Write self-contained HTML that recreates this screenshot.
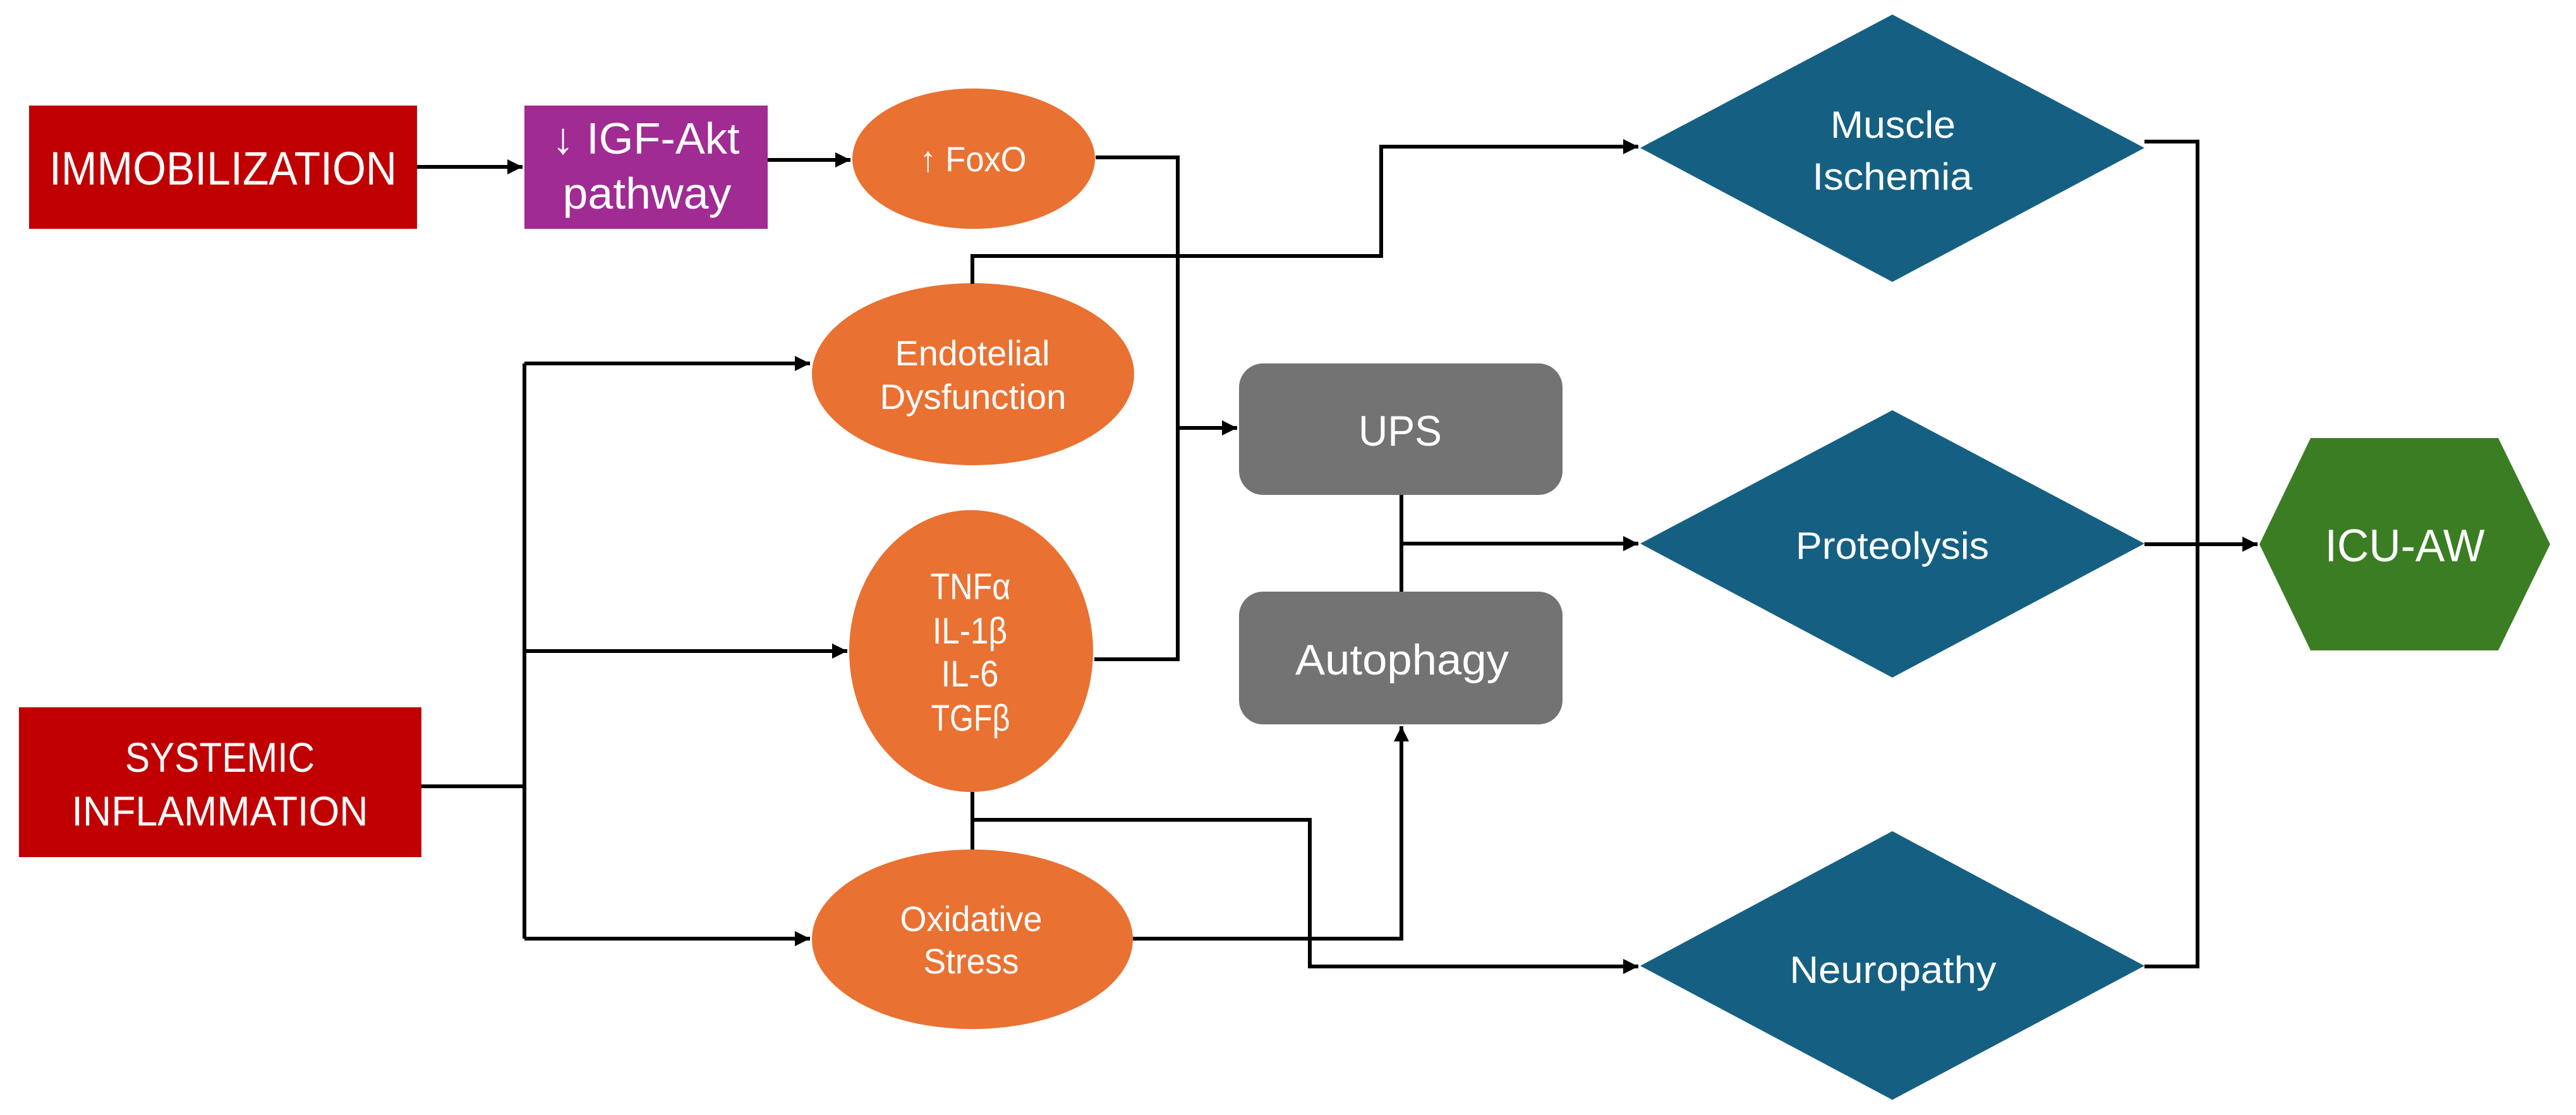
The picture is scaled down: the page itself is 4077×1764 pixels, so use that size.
<!DOCTYPE html>
<html><head><meta charset="utf-8"><style>
html,body{margin:0;padding:0;background:#fff;}
svg{display:block;}
text{font-family:"Liberation Sans",sans-serif;fill:#fff;text-anchor:middle;}
</style></head><body>
<svg width="4077" height="1764" viewBox="0 0 4077 1764" xmlns="http://www.w3.org/2000/svg">
<defs>
<marker id="a" markerUnits="userSpaceOnUse" markerWidth="26" markerHeight="26" refX="24" refY="12" orient="auto">
<path d="M0,0 L24,12 L0,24 Z" fill="#000"/>
</marker>
</defs>
<!-- shapes -->
<rect x="46" y="167" width="614" height="195" fill="#C00000"/>
<rect x="830" y="167" width="385" height="195" fill="#A02B93"/>
<ellipse cx="1541" cy="251" rx="192" ry="111" fill="#E97132"/>
<ellipse cx="1540" cy="592" rx="255" ry="144" fill="#E97132"/>
<ellipse cx="1537" cy="1030" rx="193" ry="223" fill="#E97132"/>
<ellipse cx="1539" cy="1486" rx="254" ry="142" fill="#E97132"/>
<rect x="30" y="1119" width="637" height="237" fill="#C00000"/>
<rect x="1961" y="575" width="512" height="208" rx="38" fill="#737373"/>
<rect x="1961" y="936" width="512" height="210" rx="38" fill="#737373"/>
<polygon points="2596,234 2995,23 3394,234 2995,446" fill="#156082"/>
<polygon points="2596,860 2995,649 3394,860 2995,1072" fill="#156082"/>
<polygon points="2596,1528 2995,1315 3394,1528 2995,1740" fill="#156082"/>
<polygon points="3576,861 3657,693 3954,693 4036,861 3954,1029 3657,1029" fill="#3B7D23"/>
<!-- connectors -->
<g fill="none" stroke="#000" stroke-width="6">
<path d="M660,264 H827" marker-end="url(#a)"/>
<path d="M1215,253 H1346" marker-end="url(#a)"/>
<path d="M1734,249 H1864 V1043 H1732"/>
<path d="M1864,677 H1958" marker-end="url(#a)"/>
<path d="M1539,449 V405 H2186 V232 H2593" marker-end="url(#a)"/>
<path d="M667,1244 H830"/>
<path d="M830,575 V1485"/>
<path d="M830,575 H1282" marker-end="url(#a)"/>
<path d="M830,1030 H1341" marker-end="url(#a)"/>
<path d="M830,1485 H1282" marker-end="url(#a)"/>
<path d="M1539,1253 V1344"/>
<path d="M1539,1297 H2073 V1529 H2593" marker-end="url(#a)"/>
<path d="M1793,1485 H2218 V1149" marker-end="url(#a)"/>
<path d="M2218,783 V936"/>
<path d="M2218,860 H2593" marker-end="url(#a)"/>
<path d="M3394,224 H3478 V1529 H3394"/>
<path d="M3394,861 H3573" marker-end="url(#a)"/>
</g>
<!-- text -->
<text x="353" y="292" font-size="74" textLength="550" lengthAdjust="spacingAndGlyphs">IMMOBILIZATION</text>
<text x="1022" y="243" font-size="70" textLength="297" lengthAdjust="spacingAndGlyphs">↓ IGF-Akt</text>
<text x="1024" y="330" font-size="70" textLength="267" lengthAdjust="spacingAndGlyphs">pathway</text>
<text x="1540" y="271" font-size="56" textLength="169" lengthAdjust="spacingAndGlyphs">↑ FoxO</text>
<text x="1539" y="578" font-size="56" textLength="245" lengthAdjust="spacingAndGlyphs">Endotelial</text>
<text x="1540" y="647" font-size="56" textLength="295" lengthAdjust="spacingAndGlyphs">Dysfunction</text>
<text x="1536" y="948" font-size="58" textLength="127" lengthAdjust="spacingAndGlyphs">TNFα</text>
<text x="1535" y="1018" font-size="58" textLength="118" lengthAdjust="spacingAndGlyphs">IL-1β</text>
<text x="1535" y="1086" font-size="58" textLength="91" lengthAdjust="spacingAndGlyphs">IL-6</text>
<text x="1536" y="1156" font-size="58" textLength="125" lengthAdjust="spacingAndGlyphs">TGFβ</text>
<text x="348" y="1221" font-size="66" textLength="300" lengthAdjust="spacingAndGlyphs">SYSTEMIC</text>
<text x="348" y="1306" font-size="66" textLength="469" lengthAdjust="spacingAndGlyphs">INFLAMMATION</text>
<text x="1537" y="1473" font-size="56" textLength="225" lengthAdjust="spacingAndGlyphs">Oxidative</text>
<text x="1537" y="1540" font-size="56" textLength="151" lengthAdjust="spacingAndGlyphs">Stress</text>
<text x="2216" y="705" font-size="68" textLength="132" lengthAdjust="spacingAndGlyphs">UPS</text>
<text x="2219" y="1067" font-size="68" textLength="338" lengthAdjust="spacingAndGlyphs">Autophagy</text>
<text x="2996" y="218" font-size="60" textLength="198" lengthAdjust="spacingAndGlyphs">Muscle</text>
<text x="2995" y="300" font-size="60" textLength="253" lengthAdjust="spacingAndGlyphs">Ischemia</text>
<text x="2995" y="884" font-size="60" textLength="306" lengthAdjust="spacingAndGlyphs">Proteolysis</text>
<text x="2996" y="1555" font-size="60" textLength="327" lengthAdjust="spacingAndGlyphs">Neuropathy</text>
<text x="3806" y="888" font-size="72" textLength="253" lengthAdjust="spacingAndGlyphs">ICU-AW</text>
</svg>
</body></html>
